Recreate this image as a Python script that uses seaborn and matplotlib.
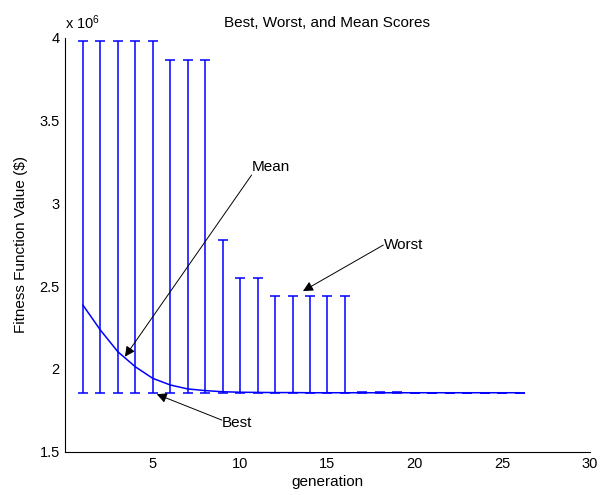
import matplotlib
matplotlib.use("Agg")
import matplotlib.pyplot as plt
import pandas as pd
import seaborn as sns
from matplotlib.ticker import FuncFormatter

# generation number and scores (in $)
GENERATION = list(range(1, 27))
BEST = [1.856e6] * 26
WORST = [3.978e6, 3.978e6, 3.978e6, 3.978e6, 3.978e6,
         3.867e6, 3.867e6, 3.867e6, 2.778e6, 2.551e6,
         2.551e6, 2.442e6, 2.442e6, 2.442e6, 2.442e6,
         2.442e6, 1.862e6, 1.862e6, 1.862e6, 1.856e6,
         1.856e6, 1.856e6, 1.856e6, 1.856e6, 1.856e6,
         1.856e6]
MEAN = [2.386e6, 2.235e6, 2.104e6, 2.013e6, 1.943e6,
        1.903e6, 1.879e6, 1.869e6, 1.862e6, 1.859e6,
        1.858e6, 1.857e6, 1.857e6, 1.856e6, 1.856e6,
        1.856e6, 1.856e6, 1.856e6, 1.856e6, 1.856e6,
        1.856e6, 1.856e6, 1.856e6, 1.856e6, 1.856e6,
        1.856e6]

X_TICKS = [5, 10, 15, 20, 25, 30]
Y_TICKS = [1.5e6, 2e6, 2.5e6, 3e6, 3.5e6, 4e6]


def main() -> None:
    df = pd.DataFrame({"generation": GENERATION, "best": BEST,
                       "worst": WORST, "mean": MEAN})

    sns.set_theme(style="white")
    plt.rcParams["font.family"] = ["Liberation Sans", "DejaVu Sans"]
    plt.rcParams["mathtext.default"] = "regular"
    plt.rcParams["text.color"] = "black"
    plt.rcParams["axes.labelcolor"] = "black"

    fig = plt.figure(figsize=(6.07, 4.95), dpi=100)
    ax = fig.add_axes([0.1077, 0.0875, 0.8635, 0.8363])

    blue = "#0000ff"
    lower = df["mean"] - df["best"]
    upper = df["worst"] - df["mean"]
    ax.errorbar(df["generation"], df["mean"], yerr=[lower, upper], fmt="none",
                ecolor=blue, elinewidth=1.1, capsize=3.5, capthick=1.1)
    sns.lineplot(data=df, x="generation", y="mean", ax=ax, color=blue, lw=1.1)

    ax.set_xlim(0, 30)
    ax.set_ylim(1.5e6, 4e6)
    ax.set_xticks(X_TICKS)
    ax.set_yticks(Y_TICKS)
    ax.yaxis.set_major_formatter(FuncFormatter(lambda v, p: f"{v / 1e6:g}"))
    ax.tick_params(direction="in", length=4, width=0.8, colors="black",
                   labelsize=10.5, pad=4)
    for side in ["top", "right"]:
        ax.spines[side].set_visible(False)
    for side in ["left", "bottom"]:
        ax.spines[side].set_color("black")
        ax.spines[side].set_linewidth(0.8)

    ax.set_title("Best, Worst, and Mean Scores", fontsize=11, pad=8, color="black")
    ax.set_xlabel("generation", fontsize=11, labelpad=3)
    ax.set_ylabel("Fitness Function Value (\\$)", fontsize=11, labelpad=8)
    ax.text(0.0, 1.015, "x 10$^{6}$", transform=ax.transAxes, fontsize=10.5,
            ha="left", va="bottom")

    arrow = dict(arrowstyle="-|>", color="black", lw=0.7, mutation_scale=15,
                 shrinkA=0, shrinkB=0)
    ax.annotate("", xy=(3.41, 2.074e6), xytext=(10.66, 3.171e6), arrowprops=arrow)
    ax.text(10.66, 3.221e6, "Mean", fontsize=11, ha="left", va="center")
    ax.annotate("", xy=(5.23, 1.847e6), xytext=(8.95, 1.691e6), arrowprops=arrow)
    ax.text(8.95, 1.673e6, "Best", fontsize=11, ha="left", va="center")
    ax.annotate("", xy=(13.6, 2.470e6), xytext=(18.2, 2.748e6), arrowprops=arrow)
    ax.text(18.25, 2.748e6, "Worst", fontsize=11, ha="left", va="center")

    fig.savefig("out.png", dpi=100)
    plt.close(fig)


if __name__ == "__main__":
    main()
